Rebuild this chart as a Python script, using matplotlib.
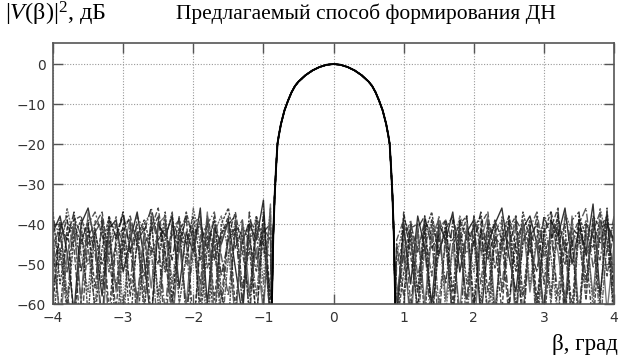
import matplotlib
matplotlib.use('Agg')
import matplotlib.pyplot as plt
import numpy as np

plt.rcParams['mathtext.fontset'] = 'custom'
plt.rcParams['mathtext.rm'] = 'Liberation Serif'
plt.rcParams['mathtext.it'] = 'Liberation Serif:italic'

SERIF = 'Liberation Serif'
GRID = '#999999'

# main lobe (common to every realisation)
main_x = [-0.88, -0.86, -0.84, -0.82, -0.80, -0.78, -0.75, -0.70, -0.65, -0.60, -0.55, -0.50, -0.40, -0.30, -0.20, -0.10, 0.0,
          0.10, 0.20, 0.30, 0.40, 0.50, 0.55, 0.60, 0.65, 0.70, 0.75, 0.78, 0.80, 0.82, 0.84, 0.86, 0.88]
main_y = [-60, -43, -33, -26, -20, -17.8, -15, -11.6, -9.2, -7.1, -5.5, -4.4, -2.8, -1.6, -0.75, -0.2, 0.0,
          -0.2, -0.75, -1.6, -2.8, -4.4, -5.5, -7.1, -9.2, -11.6, -15, -17.8, -20, -26, -33, -43, -60]

# side lobe regions, beta in degrees
left_x = [-4.0, -3.9, -3.8, -3.7, -3.6, -3.5, -3.4, -3.3, -3.2, -3.1, -3.0, -2.9, -2.8, -2.7, -2.6, -2.5,
          -2.4, -2.3, -2.2, -2.1, -2.0, -1.9, -1.8, -1.7, -1.6, -1.5, -1.4, -1.3, -1.2, -1.1, -1.0, -0.9]
right_x = [0.9, 1.0, 1.1, 1.2, 1.3, 1.4, 1.5, 1.6, 1.7, 1.8, 1.9, 2.0, 2.1, 2.2, 2.3, 2.4,
           2.5, 2.6, 2.7, 2.8, 2.9, 3.0, 3.1, 3.2, 3.3, 3.4, 3.5, 3.6, 3.7, 3.8, 3.9, 4.0]

left_db = [
    [-42, -38, -47, -62, -40, -36, -45, -58, -41, -39, -52, -44, -37, -49, -65, -40, -43, -38, -56, -42, -47, -36, -60, -41, -45, -39, -51, -63, -40, -44, -34, -66],
    [-50, -44, -39, -46, -68, -43, -40, -37, -49, -61, -42, -38, -45, -53, -41, -36, -48, -64, -44, -39, -42, -55, -38, -46, -62, -43, -37, -47, -58, -39, -45, -57],
    [-37, -55, -43, -40, -45, -39, -63, -46, -38, -44, -41, -66, -43, -39, -46, -50, -37, -59, -41, -45, -38, -49, -43, -67, -40, -36, -46, -41, -44, -52, -38, -61],
    [-45, -41, -60, -38, -43, -50, -42, -39, -67, -44, -37, -47, -40, -57, -38, -45, -62, -41, -39, -44, -70, -43, -40, -37, -48, -58, -42, -39, -64, -41, -47, -48],
    [-58, -40, -44, -37, -52, -41, -47, -64, -39, -43, -38, -46, -59, -42, -36, -44, -41, -49, -38, -65, -43, -40, -46, -39, -53, -44, -41, -60, -37, -49, -42, -40],
    [-40, -49, -36, -44, -47, -57, -39, -42, -46, -38, -62, -41, -44, -40, -37, -61, -46, -43, -39, -50, -36, -45, -68, -42, -38, -47, -63, -40, -45, -38, -55, -36],
    [-47, -63, -41, -39, -38, -45, -42, -50, -44, -56, -40, -39, -66, -45, -42, -38, -52, -40, -47, -37, -44, -61, -39, -49, -42, -40, -38, -56, -46, -64, -41, -44],
    [-39, -43, -52, -41, -60, -40, -37, -43, -48, -40, -45, -55, -38, -42, -47, -43, -69, -39, -44, -45, -40, -38, -51, -44, -59, -41, -43, -45, -39, -42, -60, -38],
    [-60, -41, -38, -66, -44, -40, -56, -39, -62, -43, -37, -58, -45, -41, -64, -39, -47, -60, -42, -38, -67, -45, -40, -59, -43, -38, -61, -44, -40, -65, -37, -58],
    [-43, -65, -48, -40, -59, -37, -44, -68, -41, -57, -46, -39, -61, -42, -56, -40, -38, -66, -45, -60, -41, -58, -37, -63, -44, -40, -66, -39, -57, -46, -62, -35],
    [-66, -46, -62, -43, -39, -63, -41, -55, -38, -70, -44, -47, -42, -63, -39, -58, -44, -37, -60, -48, -41, -64, -46, -38, -57, -65, -40, -43, -62, -38, -44, -63],
    [-48, -39, -58, -65, -42, -46, -61, -38, -52, -45, -67, -40, -43, -60, -46, -68, -39, -55, -41, -62, -47, -39, -64, -41, -68, -48, -39, -60, -43, -58, -40, -66],
]
right_db = [
    [-62, -41, -55, -38, -46, -60, -40, -44, -37, -52, -42, -39, -64, -45, -40, -36, -48, -57, -41, -38, -45, -62, -39, -43, -36, -50, -41, -47, -35, -58, -40, -44],
    [-45, -58, -40, -47, -39, -43, -66, -41, -38, -46, -59, -43, -40, -37, -51, -44, -63, -39, -42, -47, -38, -55, -41, -36, -60, -43, -39, -48, -42, -37, -53, -41],
    [-70, -38, -44, -62, -42, -37, -48, -40, -57, -39, -44, -41, -38, -66, -43, -46, -40, -52, -37, -44, -61, -42, -39, -45, -40, -67, -38, -43, -46, -39, -44, -62],
    [-50, -44, -39, -53, -45, -68, -41, -39, -45, -42, -61, -38, -47, -43, -40, -56, -39, -64, -44, -41, -37, -48, -42, -58, -38, -45, -40, -36, -51, -43, -47, -38],
    [-58, -47, -63, -41, -38, -46, -43, -55, -39, -67, -41, -45, -37, -49, -42, -39, -60, -44, -40, -46, -52, -38, -43, -41, -65, -39, -37, -54, -40, -45, -38, -57],
    [-48, -40, -45, -57, -40, -44, -39, -62, -46, -38, -43, -52, -41, -44, -69, -38, -42, -47, -39, -55, -43, -40, -48, -64, -37, -42, -45, -39, -61, -36, -44, -40],
    [-66, -52, -41, -40, -64, -39, -47, -42, -44, -40, -38, -60, -42, -46, -39, -44, -41, -38, -58, -43, -40, -66, -44, -38, -47, -41, -43, -59, -38, -41, -40, -45],
    [-44, -39, -60, -45, -42, -53, -38, -45, -63, -43, -47, -40, -55, -39, -44, -41, -45, -40, -67, -42, -46, -39, -37, -43, -50, -44, -62, -40, -43, -49, -37, -55],
    [-64, -37, -48, -61, -40, -66, -43, -39, -60, -45, -38, -63, -41, -57, -44, -62, -38, -46, -65, -40, -59, -42, -37, -64, -44, -61, -39, -47, -66, -41, -38, -60],
    [-58, -45, -66, -41, -60, -43, -39, -59, -45, -62, -40, -68, -44, -38, -61, -46, -41, -65, -39, -57, -44, -63, -40, -47, -60, -38, -64, -42, -58, -39, -62, -45],
    [-68, -60, -42, -57, -38, -62, -47, -41, -66, -39, -55, -44, -60, -40, -64, -43, -38, -61, -45, -39, -65, -41, -58, -37, -62, -44, -66, -40, -43, -60, -36, -67],
    [-61, -48, -40, -65, -46, -39, -60, -44, -63, -41, -66, -38, -45, -62, -40, -57, -46, -38, -63, -41, -68, -44, -60, -39, -46, -64, -42, -56, -39, -66, -45, -40],
]

x_ticks = [-4, -3, -2, -1, 0, 1, 2, 3, 4]
y_ticks = [0, -10, -20, -30, -40, -50, -60]

styles = ['-', (0, (4, 1.5)), (0, (2, 1)), '-.', (0, (6, 1.5, 1, 1.5)), (0, (1.5, 0.8)), (0, (3, 1)),
          (0, (5, 1.5, 1.5, 1.5)), (0, (3, 1.5)), '-', (0, (2, 0.8)), (0, (4, 1, 1, 1))]
colors = ['#000000', '#222222', '#111111', '#333333', '#0d0d0d', '#444444', '#1a1a1a', '#2d2d2d',
          '#161616', '#555555', '#202020', '#383838']

fig = plt.figure(figsize=(6.29, 3.63), dpi=100)
fig.patch.set_facecolor('white')
ax = fig.add_axes([0.0843, 0.1625, 0.892, 0.719])

for i in range(len(left_db)):
    xs = np.concatenate([left_x, main_x, right_x])
    ys = np.concatenate([left_db[i], main_y, right_db[i]])
    ax.plot(xs, ys, color=colors[i], linestyle=styles[i], linewidth=1.0, alpha=0.8)
ax.plot(main_x, main_y, color='black', linewidth=1.4)

ax.set_xlim(-4, 4)
ax.set_ylim(-60, 5.25)
ax.set_xticks(x_ticks)
ax.set_yticks(y_ticks)
ax.set_xticklabels([str(t).replace('-', '\u2212') for t in x_ticks])
ax.set_yticklabels([str(t).replace('-', '\u2212') for t in y_ticks])
ax.grid(True, linestyle=(0, (1, 1.5)), color=GRID, linewidth=0.8)
ax.tick_params(direction='in', length=7, width=1.0, color='#555555', top=True, right=True,
               labelsize=10, labelcolor='#333333', pad=5)
for s in ax.spines.values():
    s.set_color('#555555')
    s.set_linewidth(1.2)

fig.text(0.008, 0.962, r'$|\mathit{V}(\mathrm{\beta})|^{2}$, дБ', fontsize=17.5, family=SERIF, color='black', va='center', ha='left')
fig.text(0.582, 0.962, 'Предлагаемый способ формирования ДН', fontsize=15.5, family=SERIF, color='black', va='center', ha='center')
fig.text(0.982, 0.05, 'β, град', fontsize=16.5, family=SERIF, color='black', va='center', ha='right')

fig.savefig('out.png', dpi=100, facecolor='white')
